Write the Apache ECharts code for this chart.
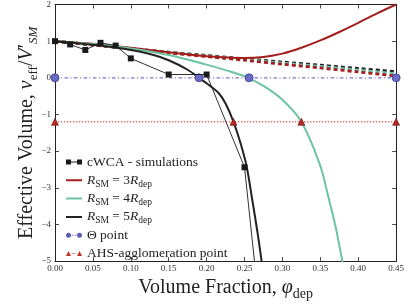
<!DOCTYPE html>
<html>
<head>
<meta charset="utf-8">
<script src="https://cdn.jsdelivr.net/npm/echarts@6/dist/echarts.min.js"></script>
<style>
html,body{margin:0;padding:0;background:#fff;}
#chart{width:407px;height:306px;}
</style>
</head>
<body>
<div id="chart"></div>
<script>
// ---- data ----
var xTicks = [0, 0.05, 0.10, 0.15, 0.20, 0.25, 0.30, 0.35, 0.40, 0.45];
var yTicks = [-5, -4, -3, -2, -1, 0, 1, 2];

var simX = [0.00, 0.02, 0.04, 0.06, 0.08, 0.10, 0.15, 0.20, 0.25, 0.30];
var simY = [1.00, 0.91, 0.76, 0.955, 0.88, 0.53, 0.09, 0.09, -2.44, -12.2];

var r3X = [0, 0.05, 0.10, 0.15, 0.20, 0.25, 0.275, 0.30, 0.325, 0.35, 0.375, 0.40, 0.425, 0.45];
var r3Y = [1.00, 0.93, 0.82, 0.70, 0.59, 0.54, 0.57, 0.66, 0.82, 1.02, 1.25, 1.50, 1.76, 2.00];

var r4X = [0, 0.05, 0.10, 0.15, 0.20, 0.225, 0.25, 0.275, 0.30, 0.325, 0.35, 0.36, 0.37, 0.379, 0.385];
var r4Y = [1.00, 0.92, 0.80, 0.62, 0.36, 0.21, 0.04, -0.22, -0.60, -1.20, -2.40, -3.20, -4.05, -5.00, -5.70];

var r5X = [0, 0.05, 0.10, 0.125, 0.15, 0.175, 0.19, 0.20, 0.216, 0.225, 0.2355, 0.245, 0.253, 0.26, 0.267, 0.2725, 0.276];
var r5Y = [1.00, 0.90, 0.76, 0.65, 0.48, 0.22, 0.00, -0.15, -0.42, -0.70, -1.20, -1.80, -2.44, -3.30, -4.20, -5.00, -5.60];

var dashX = [0, 0.05, 0.10, 0.15, 0.20, 0.25, 0.30, 0.35, 0.40, 0.45];
var dash5Y = [1.00, 0.90, 0.80, 0.70, 0.61, 0.52, 0.43, 0.345, 0.255, 0.17];
var dash4Y = [1.00, 0.90, 0.795, 0.69, 0.595, 0.50, 0.40, 0.31, 0.21, 0.11];
var dash3Y = [1.00, 0.895, 0.79, 0.68, 0.58, 0.48, 0.37, 0.27, 0.16, 0.05];

var thetaX = [0.00, 0.19, 0.256, 0.45];
var thetaY = [0, 0, 0, 0];

var ahsX = [0.00, 0.2355, 0.325, 0.45];
var ahsY = [-1.2, -1.2, -1.2, -1.2];

var names = ['cWCA - simulations', 'R3', 'R4', 'R5', 'Theta', 'AHS'];

function pairs(xs, ys) { return xs.map(function (x, i) { return [x, ys[i]]; }); }

var FONT = '"Liberation Serif", "DejaVu Serif", serif';
var RED = '#a51d1d', TEAL = '#6cc4a4', BLACK = '#222222', BLUE = '#6b6bc6';

var legendRich = {
  n: { fontFamily: FONT, fontSize: 13.5, lineHeight: 18, height: 18, color: '#222' },
  i: { fontFamily: FONT, fontSize: 13.5, lineHeight: 18, height: 18, fontStyle: 'italic', color: '#222' },
  s: { fontFamily: FONT, fontSize: 9.5, lineHeight: 9, verticalAlign: 'bottom', color: '#222' }
};
var legendText = {
  'cWCA - simulations': '{n|cWCA - simulations}',
  'R3': '{i|R}{s|SM}{n| = 3}{i|R}{s|dep}',
  'R4': '{i|R}{s|SM}{n| = 4}{i|R}{s|dep}',
  'R5': '{i|R}{s|SM}{n| = 5}{i|R}{s|dep}',
  'Theta': '{n|Θ point}',
  'AHS': '{n|AHS-agglomeration point}'
};
// legend glyphs (drawn in a 16 x 8 box)
var ICON_SIM = 'path://M0,1.5 H5 V6.5 H0 Z M11,1.5 H16 V6.5 H11 Z M5,3.6 H11 V4.4 H5 Z';
var ICON_LINE = 'path://M0,3 H16 V5 H0 Z M0,0 H0.01 V8 H0 Z';
var ICON_THETA = 'path://M0,4 A2.5,2.5 0 1 0 5,4 A2.5,2.5 0 1 0 0,4 Z M11,4 A2.5,2.5 0 1 0 16,4 A2.5,2.5 0 1 0 11,4 Z M5.6,3.6 H7.2 V4.4 H5.6 Z M7.8,3.6 H8.4 V4.4 H7.8 Z M9.0,3.6 H10.6 V4.4 H9.0 Z M0,0 H0.01 V8 H0 Z';
var ICON_AHS = 'path://M0,6.5 L2.5,1.5 L5,6.5 Z M11,6.5 L13.5,1.5 L16,6.5 Z M5.8,3.6 H6.5 V4.4 H5.8 Z M7.3,3.6 H8 V4.4 H7.3 Z M8.8,3.6 H9.5 V4.4 H8.8 Z M0,0 H0.01 V8 H0 Z';

var chart = echarts.init(document.getElementById('chart'), null, { renderer: 'canvas' });

var axisLineStyle = { show: true, onZero: false, lineStyle: { color: '#222', width: 1 } };
var tickStyle = { show: true, inside: true, length: 4, lineStyle: { color: '#222', width: 0.8 } };

var option = {
  backgroundColor: '#fff',
  animation: false,
  grid: { left: 55, right: 8, top: 3, bottom: 37, containLabel: false },
  legend: {
    data: [
      { name: names[0], icon: ICON_SIM, itemStyle: { borderWidth: 0 } },
      { name: names[1], icon: ICON_LINE, itemStyle: { borderWidth: 0 } },
      { name: names[2], icon: ICON_LINE, itemStyle: { borderWidth: 0 } },
      { name: names[3], icon: ICON_LINE, itemStyle: { borderWidth: 0 } },
      { name: names[4], icon: ICON_THETA, itemStyle: { borderWidth: 0, color: '#5c5cb8' } },
      { name: names[5], icon: ICON_AHS, itemStyle: { borderWidth: 0, color: '#c0322a' } }
    ],
    orient: 'vertical',
    left: 61,
    top: 148,
    itemWidth: 16,
    itemHeight: 8,
    itemGap: 0.3,
    formatter: function (name) { return legendText[name]; },
    textStyle: { rich: legendRich, fontFamily: FONT, lineHeight: 18, height: 18 }
  },
  xAxis: [
    {
      type: 'value', min: 0, max: 0.45, interval: 0.05, position: 'bottom',
      axisLine: axisLineStyle, axisTick: tickStyle, splitLine: { show: false },
      axisLabel: { fontFamily: FONT, fontSize: 9, color: '#333', margin: 3,
        formatter: function (v) { return v.toFixed(2); } },
      name: '{n|Volume Fraction, }{i|φ}{s|dep}',
      nameLocation: 'middle', nameGap: 10,
      nameTextStyle: { rich: {
        n: { fontFamily: FONT, fontSize: 20, lineHeight: 26, color: '#222' },
        i: { fontFamily: FONT, fontSize: 20, lineHeight: 26, fontStyle: 'italic', color: '#222' },
        s: { fontFamily: FONT, fontSize: 14, lineHeight: 13, verticalAlign: 'bottom', color: '#222' }
      } }
    },
    {
      type: 'value', min: 0, max: 0.45, interval: 0.05, position: 'top',
      axisLine: axisLineStyle, axisTick: tickStyle, splitLine: { show: false },
      axisLabel: { show: false }
    }
  ],
  yAxis: [
    {
      type: 'value', min: -5, max: 2, interval: 1, position: 'left',
      axisLine: axisLineStyle, axisTick: tickStyle, splitLine: { show: false },
      axisLabel: { fontFamily: FONT, fontSize: 9, color: '#333', margin: 4,
        formatter: function (v) { return String(v).replace('-', '\u2212'); } },
      name: '{n|Effective Volume, }{i|ν}{s|eff}{n|/}{i|V}{n|′}{si|SM}',
      nameLocation: 'middle', nameRotate: 90, nameGap: 15, nameMoveOverlap: false,
      nameTextStyle: { rich: {
        n: { fontFamily: FONT, fontSize: 20, lineHeight: 26, color: '#222' },
        i: { fontFamily: FONT, fontSize: 20, lineHeight: 26, fontStyle: 'italic', color: '#222' },
        s: { fontFamily: FONT, fontSize: 13, lineHeight: 12, verticalAlign: 'bottom', color: '#222' },
        si: { fontFamily: FONT, fontSize: 13, lineHeight: 12, verticalAlign: 'bottom', fontStyle: 'italic', color: '#222' }
      } }
    },
    {
      type: 'value', min: -5, max: 2, interval: 1, position: 'right',
      axisLine: axisLineStyle, axisTick: tickStyle, splitLine: { show: false },
      axisLabel: { show: false }
    }
  ],
  series: [
    { name: 'dash5', type: 'line', data: pairs(dashX, dash5Y), showSymbol: false, symbol: 'none', smooth: 0.3,
      lineStyle: { color: BLACK, width: 2.8, type: [4, 3] }, z: 2 },
    { name: 'dash4', type: 'line', data: pairs(dashX, dash4Y), showSymbol: false, symbol: 'none', smooth: 0.3,
      lineStyle: { color: TEAL, width: 2.8, type: [4, 3] }, z: 2 },
    { name: 'dash3', type: 'line', data: pairs(dashX, dash3Y), showSymbol: false, symbol: 'none', smooth: 0.3,
      lineStyle: { color: RED, width: 2.8, type: [4, 3] }, z: 2 },
    { name: 'Theta', type: 'line', data: pairs(thetaX, thetaY), symbol: 'circle', symbolSize: 8,
      itemStyle: { color: BLUE, borderColor: '#3b3b8c', borderWidth: 0.8 },
      lineStyle: { color: '#7676d4', width: 1.2, type: [3.5, 2.5, 1, 2.5] }, z: 5 },
    { name: 'AHS', type: 'line', data: pairs(ahsX, ahsY), symbol: 'triangle', symbolSize: 7,
      itemStyle: { color: '#b52a22', borderColor: '#6a1010', borderWidth: 0.6 },
      lineStyle: { color: '#e04a4a', width: 1.3, type: [1.3, 1.7] }, z: 5 },
    { name: 'R3', type: 'line', data: pairs(r3X, r3Y), showSymbol: false, symbol: 'none', smooth: 0.3,
      lineStyle: { color: RED, width: 2 }, itemStyle: { color: RED }, z: 3 },
    { name: 'R4', type: 'line', data: pairs(r4X, r4Y), showSymbol: false, symbol: 'none', smooth: 0.3,
      lineStyle: { color: TEAL, width: 2 }, itemStyle: { color: TEAL }, z: 3 },
    { name: 'R5', type: 'line', data: pairs(r5X, r5Y), showSymbol: false, symbol: 'none', smooth: 0.3,
      lineStyle: { color: BLACK, width: 2 }, itemStyle: { color: BLACK }, z: 3 },
    { name: 'cWCA - simulations', type: 'line', data: pairs(simX, simY), symbol: 'rect', symbolSize: 6,
      itemStyle: { color: '#1a1a1a' }, lineStyle: { color: '#1a1a1a', width: 0.9 }, z: 6 }
  ]
};
chart.setOption(option);
</script>
</body>
</html>
